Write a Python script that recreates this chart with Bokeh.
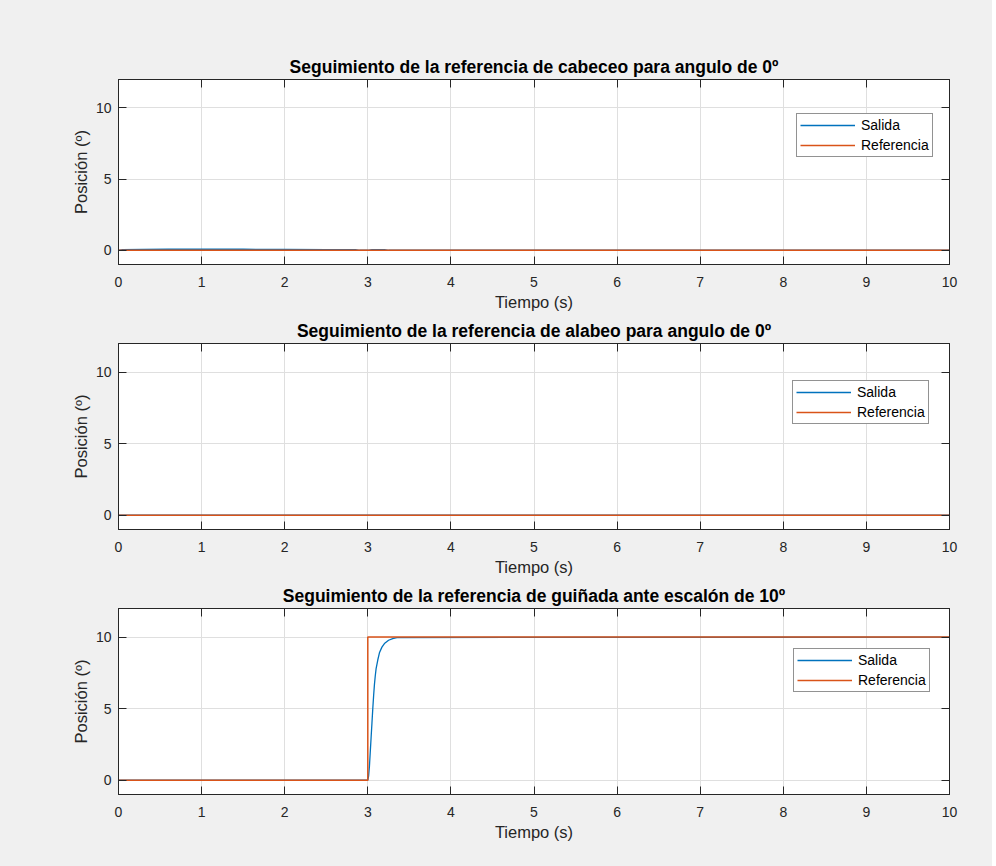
from bokeh.plotting import figure
from bokeh.models import (LinearAxis, Legend, LegendItem, FixedTicker, Range1d,
                          CustomJSTickFormatter)
from bokeh.layouts import column
from bokeh.embed import file_html
from bokeh.resources import INLINE

# ---- data ----
titles = [
    "Seguimiento de la referencia de cabeceo para angulo de 0º",
    "Seguimiento de la referencia de alabeo para angulo de 0º",
    "Seguimiento de la referencia de guiñada ante escalón de 10º",
]
x_ticks = [0, 1, 2, 3, 4, 5, 6, 7, 8, 9, 10]
y_ticks = [0, 5, 10]

# subplot 1 (pitch): output stays close to 0
t1_out = [0.0, 0.05, 0.3, 0.6, 1.0, 1.5, 2.0, 2.5, 2.85, 2.9, 3.0, 3.05, 3.2, 3.25, 10.0]
y1_out = [0.0, 0.05, 0.06, 0.07, 0.08, 0.07, 0.06, 0.05, 0.05, 0.0, 0.0, 0.05, 0.05, 0.0, 0.0]
t1_ref = [0.0, 10.0]
y1_ref = [0.0, 0.0]

# subplot 2 (roll): everything at 0
t2_out = [0.0, 10.0]
y2_out = [0.0, 0.0]
t2_ref = [0.0, 10.0]
y2_ref = [0.0, 0.0]

# subplot 3 (yaw): step of 10 at t = 3 s
t3_out = [0.0, 3.0, 3.01, 3.02, 3.03, 3.04, 3.05, 3.06, 3.07, 3.08, 3.09, 3.10, 3.12,
          3.14, 3.17, 3.20, 3.25, 3.30, 3.35, 10.0]
y3_out = [0.0, 0.0, 0.3, 1.0, 2.0, 3.0, 4.0, 5.0, 5.9, 6.7, 7.3, 7.8, 8.4,
          8.9, 9.3, 9.55, 9.78, 9.9, 9.97, 10.0]
t3_ref = [0.0, 3.0, 3.0, 10.0]
y3_ref = [0.0, 0.0, 10.0, 10.0]

series = [(t1_out, y1_out, t1_ref, y1_ref),
          (t2_out, y2_out, t2_ref, y2_ref),
          (t3_out, y3_out, t3_ref, y3_ref)]

BG = "#f0f0f0"
AX = "#262626"
BLUE = "#0072BD"
ORANGE = "#D95319"
FONT = "Liberation Sans"

legend_pos = [(678, 107), (674, 105), (675, 102)]
tops = [79, 26, 26]
bottoms = [52, 52, 72]
frame_h = [185, 186, 186]


def make(i):
    tout, yout, tref, yref = series[i]
    p = figure(output_backend="svg", toolbar_location=None,
               frame_width=831, frame_height=frame_h[i],
               x_range=Range1d(0, 10), y_range=Range1d(-1, 12),
               min_border_left=118, min_border_right=43,
               min_border_top=tops[i], min_border_bottom=bottoms[i],
               background_fill_color="white", border_fill_color=BG,
               title=titles[i])
    p.title.align = "center"
    p.title.text_font = FONT
    p.title.text_font_size = "17.5px"
    p.title.text_font_style = "bold"
    p.title.text_color = "#000000"
    p.title.standoff = 5
    p.outline_line_color = AX
    p.outline_line_width = 1
    p.outline_line_alpha = 1

    for ax in (p.xaxis[0], p.yaxis[0]):
        ax.axis_line_color = AX
        ax.major_tick_line_color = AX
        ax.major_tick_in = 8
        ax.major_tick_out = 0
        ax.minor_tick_line_color = None
        ax.major_label_text_font = FONT
        ax.major_label_text_font_size = "14px"
        ax.major_label_text_color = AX
        ax.axis_label_text_font = FONT
        ax.axis_label_text_font_size = "16.5px"
        ax.axis_label_text_font_style = "normal"
        ax.axis_label_text_color = AX
    p.xaxis.ticker = FixedTicker(ticks=x_ticks)
    p.yaxis.ticker = FixedTicker(ticks=y_ticks)
    p.xaxis.axis_label = "Tiempo (s)"
    p.yaxis.axis_label = "Posición (º)"
    p.xaxis.major_label_standoff = 12
    p.xaxis.axis_label_standoff = 3
    p.yaxis.major_label_standoff = 7
    p.yaxis.axis_label_standoff = 3

    # mirrored ticks on top/right (no labels)
    for loc, ticks in (("above", x_ticks), ("right", y_ticks)):
        a = LinearAxis(ticker=FixedTicker(ticks=ticks),
                       formatter=CustomJSTickFormatter(code="return ''"))
        a.axis_line_color = AX
        a.major_tick_line_color = AX
        a.major_tick_in = 8
        a.major_tick_out = 0
        a.minor_tick_line_color = None
        a.major_label_text_font_size = "1px"
        a.major_label_standoff = 0
        p.add_layout(a, loc)

    p.xgrid.grid_line_color = "#dfdfdf"
    p.ygrid.grid_line_color = "#dfdfdf"
    p.xgrid.ticker = FixedTicker(ticks=x_ticks)
    p.ygrid.ticker = FixedTicker(ticks=y_ticks)

    r1 = p.line(tout, yout, line_color=BLUE, line_width=1.3)
    r2 = p.line(tref, yref, line_color=ORANGE, line_width=1.5)

    leg = Legend(items=[LegendItem(label="Salida", renderers=[r1]),
                        LegendItem(label="Referencia", renderers=[r2])],
                 location=legend_pos[i])
    leg.border_line_color = AX
    leg.border_line_width = 1
    leg.background_fill_color = "white"
    leg.background_fill_alpha = 1
    leg.label_text_font = FONT
    leg.label_text_font_size = "14px"
    leg.label_text_color = "#000000"
    leg.glyph_width = 55
    leg.glyph_height = 16
    leg.label_height = 16
    leg.label_standoff = 6
    leg.spacing = 4
    leg.padding = 3
    leg.margin = 0
    p.add_layout(leg, "center")
    return p


figs = [make(i) for i in range(3)]
layout = column(*figs, spacing=0, background=BG)
html = file_html(layout, INLINE)
open("out.html", "w").write(html)
